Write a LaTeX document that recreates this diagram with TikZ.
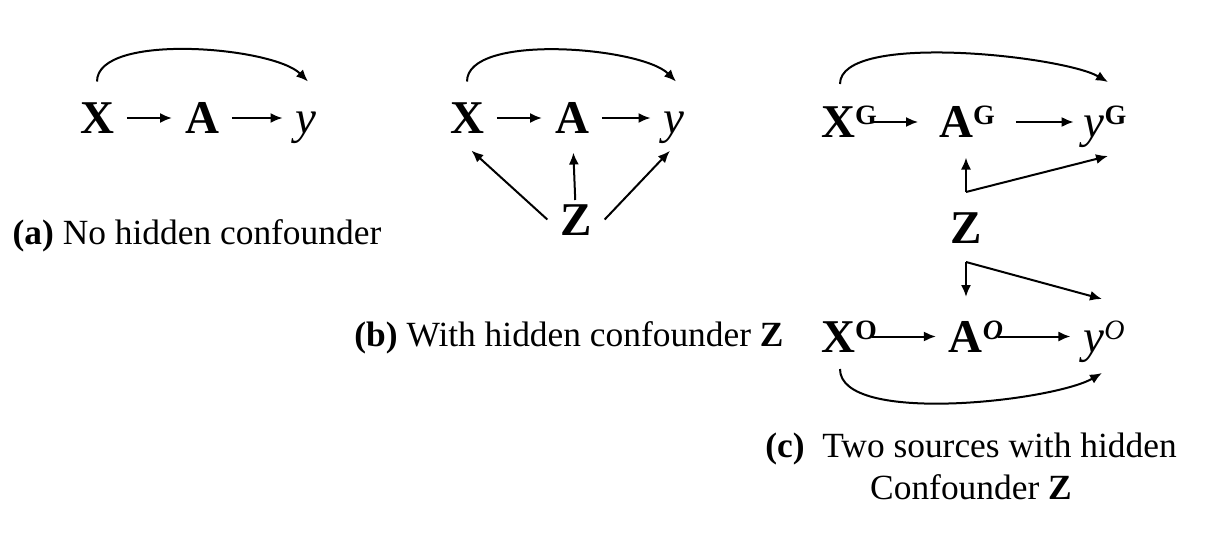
\documentclass[tikz,border=0pt]{standalone}
\usepackage{fontspec}
\setmainfont{Liberation Serif}
\usetikzlibrary{arrows.meta,positioning,calc}
\tikzstyle{var}=[inner xsep=6pt,inner ysep=6pt,text height=15.5pt,text depth=0pt,font=\fontsize{23.5}{28}\selectfont\bfseries]
\tikzstyle{arr}=[draw,-{Latex[length=6pt,width=5pt]}]
\tikzstyle{caption}=[font=\fontsize{17.7}{21}\selectfont]
\newcommand{\supr}[1]{\raisebox{6.5pt}{\fontsize{14}{14}\selectfont\bfseries #1}}

\begin{document}
\begin{tikzpicture}[x=0.5pt,y=-0.5pt,line width=1pt]
\useasboundingbox (0,0) rectangle (1222,536);
% (a) no hidden confounder
\node [var] (xa) at (97,118) {X};
\node [var] (aa) at (202,118) {A};
\node [var] (ya) at (306,118) {\mdseries\itshape y};
\draw [arr] (xa) -- (aa);
\draw [arr] (aa) -- (ya);
\draw [arr] ([yshift=4pt]xa.north) to[out=90,in=135,looseness=0.6] ([xshift=1pt,yshift=4pt]ya.north);
\node [caption] (capa) at (197,236) {\textbf{(a)} No hidden confounder};

% (b) hidden confounder
\node [var] (xb) at (467,118) {X};
\node [var] (ab) at (572,118) {A};
\node [var] (yb) at (674,118) {\mdseries\itshape y};
\node [var] (zb) at (576,219.5) {Z};
\draw [arr] (xb) -- (ab);
\draw [arr] (ab) -- (yb);
\draw [arr] ([yshift=4pt]xb.north) to[out=90,in=135,looseness=0.6] ([xshift=1pt,yshift=4pt]yb.north);
\draw [arr,shorten >=3pt] (zb.west) -- (xb.south);
\draw [arr,shorten <=-4.5pt,shorten >=3pt] (zb) -- (ab);
\draw [arr,shorten >=3pt] (zb.east) -- (yb.south);
\node [caption] (capb) at (569,338) {\textbf{(b)} With hidden confounder \textbf{Z}};

% (c) two sources
\node [var] (xg) at (849,122) {X\supr{G}};
\node [var] (ag) at (967,122) {A\supr{G}};
\node [var] (yg) at (1105,122) {{\mdseries\itshape y}\supr{G}};
\node [var] (zc) at (966,227.5) {Z};
\node [var] (xo) at (849,336.5) {X\supr{O}};
\node [var] (ao) at (976,336.5) {A\supr{\itshape O}};
\node [var] (yo) at (1104,336.5) {{\mdseries\itshape y}\supr{\mdseries\itshape O}};
\draw [arr,shorten <=-9pt,shorten >=4pt] (xg) -- (ag);
\draw [arr,shorten <=4pt,shorten >=-1.5pt] (ag) -- (yg);
\draw [arr,shorten <=-9pt] (xo) -- (ao);
\draw [arr,shorten <=-9pt] (ao) -- (yo);
\draw [arr] ([xshift=-4.5pt,yshift=4.75pt]xg.north) to[out=90,in=150,looseness=0.5] ([xshift=1.5pt,yshift=5.75pt]yg.north);
\draw [arr] ([xshift=-4.5pt,yshift=-2pt]xo.south) to[out=-90,in=-150,looseness=0.55] ([xshift=-1pt,yshift=-4pt]yo.south);
\coordinate (zup) at ([yshift=3.5pt]zc.north);
\coordinate (zdn) at ([yshift=-3pt]zc.south);
\draw [arr,shorten >=3.5pt] (zup) -- (zup |- ag.south);
\draw [arr] (zup) -- ([xshift=1.5pt,yshift=-2.75pt]yg.south);
\draw [arr] (zdn) -- ($(zdn |- ao.north)+(0,-11)$);
\draw [arr] (zdn) -- ([xshift=-1pt,yshift=4.5pt]yo.north);
\node [caption,align=center] (capc) at (971,466) {\textbf{(c)}\enspace Two sources with hidden\\Confounder \textbf{Z}};
\end{tikzpicture}
\end{document}
